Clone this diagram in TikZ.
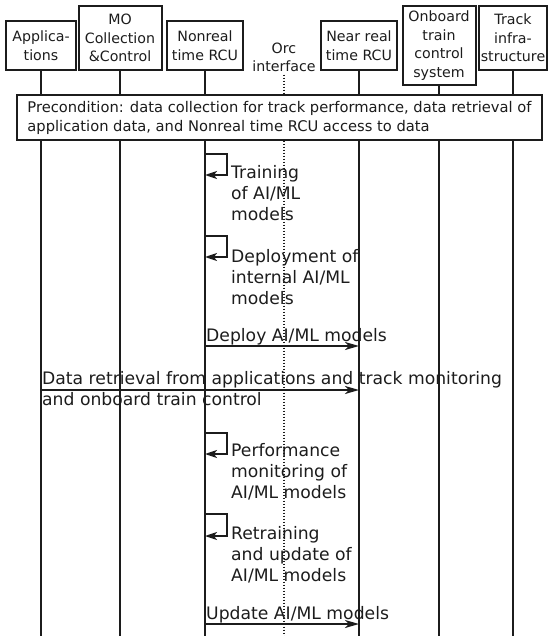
\documentclass[tikz,border=0pt]{standalone}
\usepackage{fontspec}
\setmainfont{DejaVu Sans}
\usetikzlibrary{arrows.meta}
\definecolor{ink}{RGB}{28,28,28}
\begin{document}
\begin{tikzpicture}[x=1pt,y=-1pt,
  actor/.style={draw=ink, line width=2pt, align=center, inner sep=0pt,
    font=\fontsize{14.2}{18.5}\selectfont, text=ink, anchor=south},
  life/.style={draw=ink, line width=1.6pt},
  iface/.style={draw=ink, line width=1.5pt, dash pattern=on 1.5pt off 1.5pt},
  note/.style={draw=ink, fill=white, line width=2pt, align=left, inner sep=0pt,
    font=\fontsize{14.7}{19}\selectfont, text=ink},
  msg/.style={draw=ink, line width=1.8pt, -{Stealth[length=14pt,width=8pt,inset=4pt]}},
  selfmsg/.style={draw=ink, line width=1.6pt, -{Stealth[length=12pt,width=8pt,inset=3pt]}},
  lbl/.style={inner sep=0pt, align=left, font=\fontsize{17.2}{21}\selectfont, text=ink},
]
\useasboundingbox (0,0) rectangle (548,636);
\coordinate (bot) at (0,636);

% participants
\node[actor, minimum width=70pt, minimum height=49pt] (app) at (41,71) {Applica-\\tions};
\node[actor, minimum width=83pt, minimum height=64pt] (mo) at (120,71) {MO\\Collection\\\&Control};
\node[actor, minimum width=76pt, minimum height=49pt] (nrt) at (205,71) {Nonreal\\time RCU};
\node[inner sep=0pt, align=center, font=\fontsize{14.2}{18}\selectfont, text=ink] (orc) at (284,57) {Orc\\interface};
\node[actor, minimum width=76pt, minimum height=49pt] (near) at (359,71) {Near real\\time RCU};
\node[actor, minimum width=73pt, minimum height=79pt] (obc) at (439,86) {Onboard\\train\\control\\system};
\node[actor, minimum width=68pt, minimum height=64pt] (track) at (513,71) {Track\\infra-\\structure};

% lifelines
\foreach \p in {app,mo,nrt,near,obc,track}
  \draw[life] (\p.south) -- (\p.south |- bot);
\draw[iface] (orc.south) ++(0,3) -- (orc.south |- bot);

% precondition
\node[note, minimum width=525pt, minimum height=45pt] (pre) at (279.5,117.5)
  {Precondition: data collection for track performance, data retrieval of\\application data, and Nonreal time RCU access to data};

% training
\draw[selfmsg] (nrt.south |- 0,154) -- (227,154) -- (227,175) -- (nrt.south |- 0,175);
\node[lbl, anchor=west] (train) at (231,193) {Training\\of AI/ML\\models};

% internal deployment
\draw[selfmsg] (nrt.south |- 0,236) -- (227,236) -- (227,257) -- (nrt.south |- 0,257);
\node[lbl, anchor=west] (deploy) at (231,277) {Deployment of\\internal AI/ML\\models};

% deploy to near real time RCU
\draw[msg] (nrt.south |- 0,346) -- (near.south |- 0,346);
\node[lbl, anchor=base west] (deploylbl) at (206,341) {Deploy AI/ML models};

% data retrieval (label sits on both sides of the arrow)
\draw[msg] (app.south |- 0,390) -- (near.south |- 0,390);
\node[lbl, anchor=base west] (datalbl) at (42,405) {Data retrieval from applications and track monitoring\\and onboard train control};

% performance monitoring
\draw[selfmsg] (nrt.south |- 0,433) -- (227,433) -- (227,454) -- (nrt.south |- 0,454);
\node[lbl, anchor=west] (perf) at (231,472) {Performance\\monitoring of\\AI/ML models};

% retraining
\draw[selfmsg] (nrt.south |- 0,514) -- (227,514) -- (227,536) -- (nrt.south |- 0,536);
\node[lbl, anchor=west] (retrain) at (231,555) {Retraining\\and update of\\AI/ML models};

% update
\draw[msg] (nrt.south |- 0,624) -- (near.south |- 0,624);
\node[lbl, anchor=base west] (updlbl) at (206,619) {Update AI/ML models};
\end{tikzpicture}
\end{document}
